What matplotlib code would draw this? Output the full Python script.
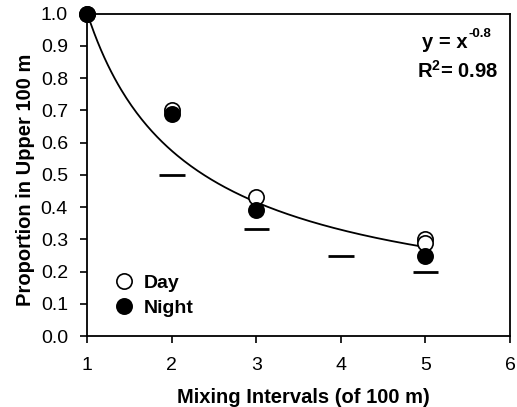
import numpy as np
import matplotlib
matplotlib.use("Agg")
import matplotlib.pyplot as plt

plt.rcParams['font.family'] = ['Liberation Sans', 'DejaVu Sans']
plt.rcParams['mathtext.fontset'] = 'custom'
plt.rcParams['mathtext.rm'] = 'Liberation Sans'
plt.rcParams['mathtext.bf'] = 'Liberation Sans:bold'
plt.rcParams['mathtext.it'] = 'Liberation Sans:italic'

# Data
day_x = [1, 2, 3, 5, 5]
day_y = [1.0, 0.70, 0.43, 0.30, 0.29]
night_x = [1, 2, 3, 5]
night_y = [1.0, 0.69, 0.39, 0.25]
expected_x = [2, 3, 4, 5]
expected_y = [0.5, 0.333, 0.25, 0.2]
fit_exponent = -0.8
x_ticks = [1, 2, 3, 4, 5, 6]
y_ticks = [0.0, 0.1, 0.2, 0.3, 0.4, 0.5, 0.6, 0.7, 0.8, 0.9, 1.0]

fig = plt.figure(figsize=(5.17, 4.07), dpi=100)
ax = fig.add_axes([0.169, 0.174, 0.8175, 0.7925])

# fitted curve
xc = np.linspace(1, 5, 200)
ax.plot(xc, xc ** fit_exponent, color='black', lw=1.3, zorder=2)

# expected 1/x dashes
half = 0.15
ax.hlines(expected_y, [x - half for x in expected_x], [x + half for x in expected_x],
          color='black', lw=2.0, zorder=2)

ax.plot(day_x, day_y, 'o', ms=11, mfc='white', mec='black', mew=1.2, ls='none', zorder=3, label='Day')
ax.plot(night_x, night_y, 'o', ms=11, mfc='black', mec='black', mew=1.2, ls='none', zorder=4, label='Night')

ax.set_xlim(1, 6)
ax.set_ylim(0, 1.0)
ax.set_xticks(x_ticks)
ax.set_yticks(y_ticks)
ax.set_yticklabels([f"{v:.1f}" for v in y_ticks])
ax.tick_params(direction='out', length=5, width=1.2, labelsize=14, colors='black',
               top=False, right=False)
ax.tick_params(axis='x', pad=10)
ax.tick_params(axis='y', pad=9)
for s in ax.spines.values():
    s.set_linewidth(1.3)

ax.set_xlabel('Mixing Intervals (of 100 m)', fontsize=14.5, fontweight='bold')
ax.set_ylabel('Proportion in Upper 100 m', fontsize=14.5, fontweight='bold')
ax.xaxis.set_label_coords(0.51, -0.160)
ax.yaxis.set_label_coords(-0.124, 0.4845)

t1 = ax.text(0.9006, 0.894, 'y = x', transform=ax.transAxes, ha='right', va='baseline',
             fontsize=14.5, fontweight='bold')
ax.annotate('-0.8', xy=(1.0, 0.62), xycoords=t1, ha='left', va='bottom',
            fontsize=9.5, fontweight='bold')
ax.text(0.9716, 0.80, r'R$^{\mathbf{2}}$= 0.98', transform=ax.transAxes, ha='right', va='baseline',
        fontsize=14.5, fontweight='bold')

leg = ax.legend(loc='lower left', bbox_to_anchor=(0.05, 0.035), frameon=False,
                handlelength=0.8, handletextpad=0.6, labelspacing=0.4, borderaxespad=0,
                prop={'weight': 'bold', 'size': 14})

for line in ax.lines:
    line.set_clip_on(False)

fig.savefig('out.png', dpi=100)
